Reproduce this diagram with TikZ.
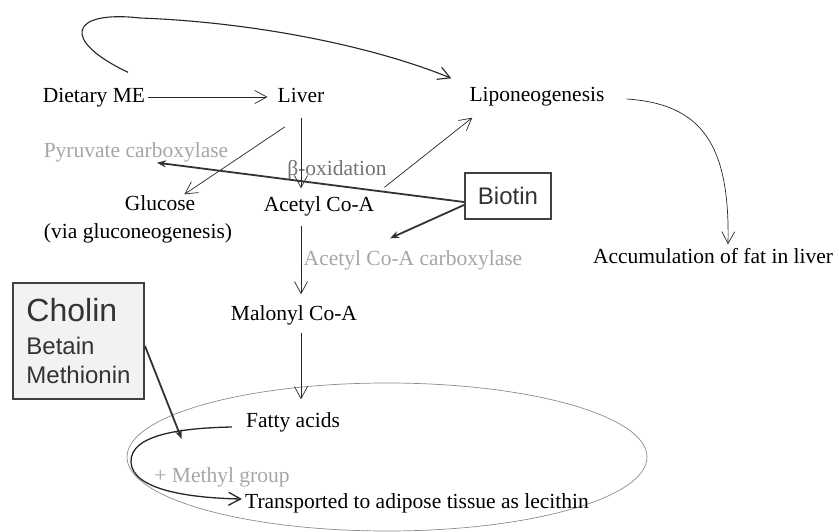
\documentclass[tikz,border=0pt]{standalone}
\usepackage{fontspec}
\setmainfont{Liberation Serif}
\setsansfont{Liberation Sans}
\usetikzlibrary{arrows.meta,shapes.geometric}

\tikzset{
  txt/.style={font=\fontsize{21.5}{25}\selectfont, inner sep=3pt, text height=16pt, text depth=5pt},
  faint/.style={txt, text=black!35},
  thinarr/.style={draw=black!85, line width=0.7pt, -{Straight Barb[length=12pt,width=13pt]}},
  boldarr/.style={draw=black!80, line width=1.8pt, -{Stealth[length=9pt,width=7pt]}},
  vitbox/.style={draw=black!75, line width=2pt, font=\sffamily\fontsize{24}{29}\selectfont, text=black!80}
}

\begin{document}
\begin{tikzpicture}[x=1pt,y=-1pt]
    \useasboundingbox (0,0) rectangle (839,532);
    \node[draw=black!45, line width=0.7pt, ellipse, minimum width=520pt, minimum height=148pt, inner sep=0pt] (pool) at (387,457) {};
    \node[txt] (dietary) at (94,97) {Dietary ME};
    \node[txt] (liver) at (301,97) {Liver};
    \node[txt] (lipo) at (537,96) {Liponeogenesis};
    \node[txt] (accum) at (713,258) {Accumulation of fat in liver};
    \node[faint] (pyruvate) at (136,152) {Pyruvate carboxylase};
    \node[txt, text=black!55] (betaox) at (337,170) {β-oxidation};
    \node[txt] (glucose) at (160,205) {Glucose};
    \node[txt] (viagluco) at (138,233) {(via gluconeogenesis)};
    \node[txt] (acetyl) at (319,206) {Acetyl Co-A};
    \node[faint] (acc) at (413,260) {Acetyl Co-A carboxylase};
    \node[txt] (malonyl) at (294,315) {Malonyl Co-A};
    \node[txt] (fatty) at (293,422) {Fatty acids};
    \node[faint] (methyl) at (222,477) {+ Methyl group};
    \node[txt] (transp) at (417,503) {Transported to adipose tissue as lecithin};
    \node[vitbox, minimum width=86pt, minimum height=46pt, inner sep=0pt] (biotin) at (508,196) {Biotin};
    \node[vitbox, fill=black!5, anchor=north west, align=left, minimum width=131pt, minimum height=116pt, inner xsep=12pt] (cholin) at (12,282) {{\fontsize{32}{36}\selectfont Cholin}\\[4pt]Betain\\Methionin};

    \draw[thinarr, line width=1.1pt] ([xshift=34pt,yshift=11pt]dietary.north) .. controls (60,40) and (70,10) .. (140,18) .. controls (250,22) and (370,45) .. ([xshift=-15pt,yshift=4pt]lipo.north west);
    \draw[thinarr, shorten >=7pt] (dietary) -- (liver);
    \draw[thinarr, shorten <=7pt, shorten >=4pt] (liver.south) -- (liver.south |- acetyl.north);
    \draw[thinarr, shorten <=29pt] ([xshift=8pt]liver.south) -- ([xshift=-14pt,yshift=-3pt]glucose.north east);
    \draw[thinarr, shorten <=6pt, shorten >=7pt] (acetyl.south -| liver) -- (malonyl.north -| liver);
    \draw[thinarr, shorten <=4pt, shorten >=9pt] (malonyl.south -| liver) -- (fatty.north -| liver);
    \draw[thinarr] ([xshift=7pt,yshift=5pt]acetyl.north east) -- ([xshift=6pt,yshift=-8pt]lipo.south west);
    \draw[thinarr] ([xshift=19pt,yshift=-3pt]lipo.east) .. controls +(75,5) and +(2,-100) .. ([xshift=15pt]accum.north);
    \draw[boldarr] ([yshift=-6pt]biotin.west) -- ([xshift=21pt,yshift=3pt]pyruvate.south);
    \draw[boldarr] ([yshift=-9pt]biotin.west) -- ([xshift=-23pt,yshift=8pt]acc.north);
    \draw[boldarr] ([yshift=-5pt]cholin.east) -- ([xshift=55pt,yshift=18pt]pool.west);
    \draw[thinarr, line width=1.3pt] ([xshift=-11pt,yshift=-5pt]fatty.west) .. controls (180,428) and (130,435) .. (131,462) .. controls (132,490) and (190,498) .. ([yshift=4pt]transp.west);
\end{tikzpicture}
\end{document}
